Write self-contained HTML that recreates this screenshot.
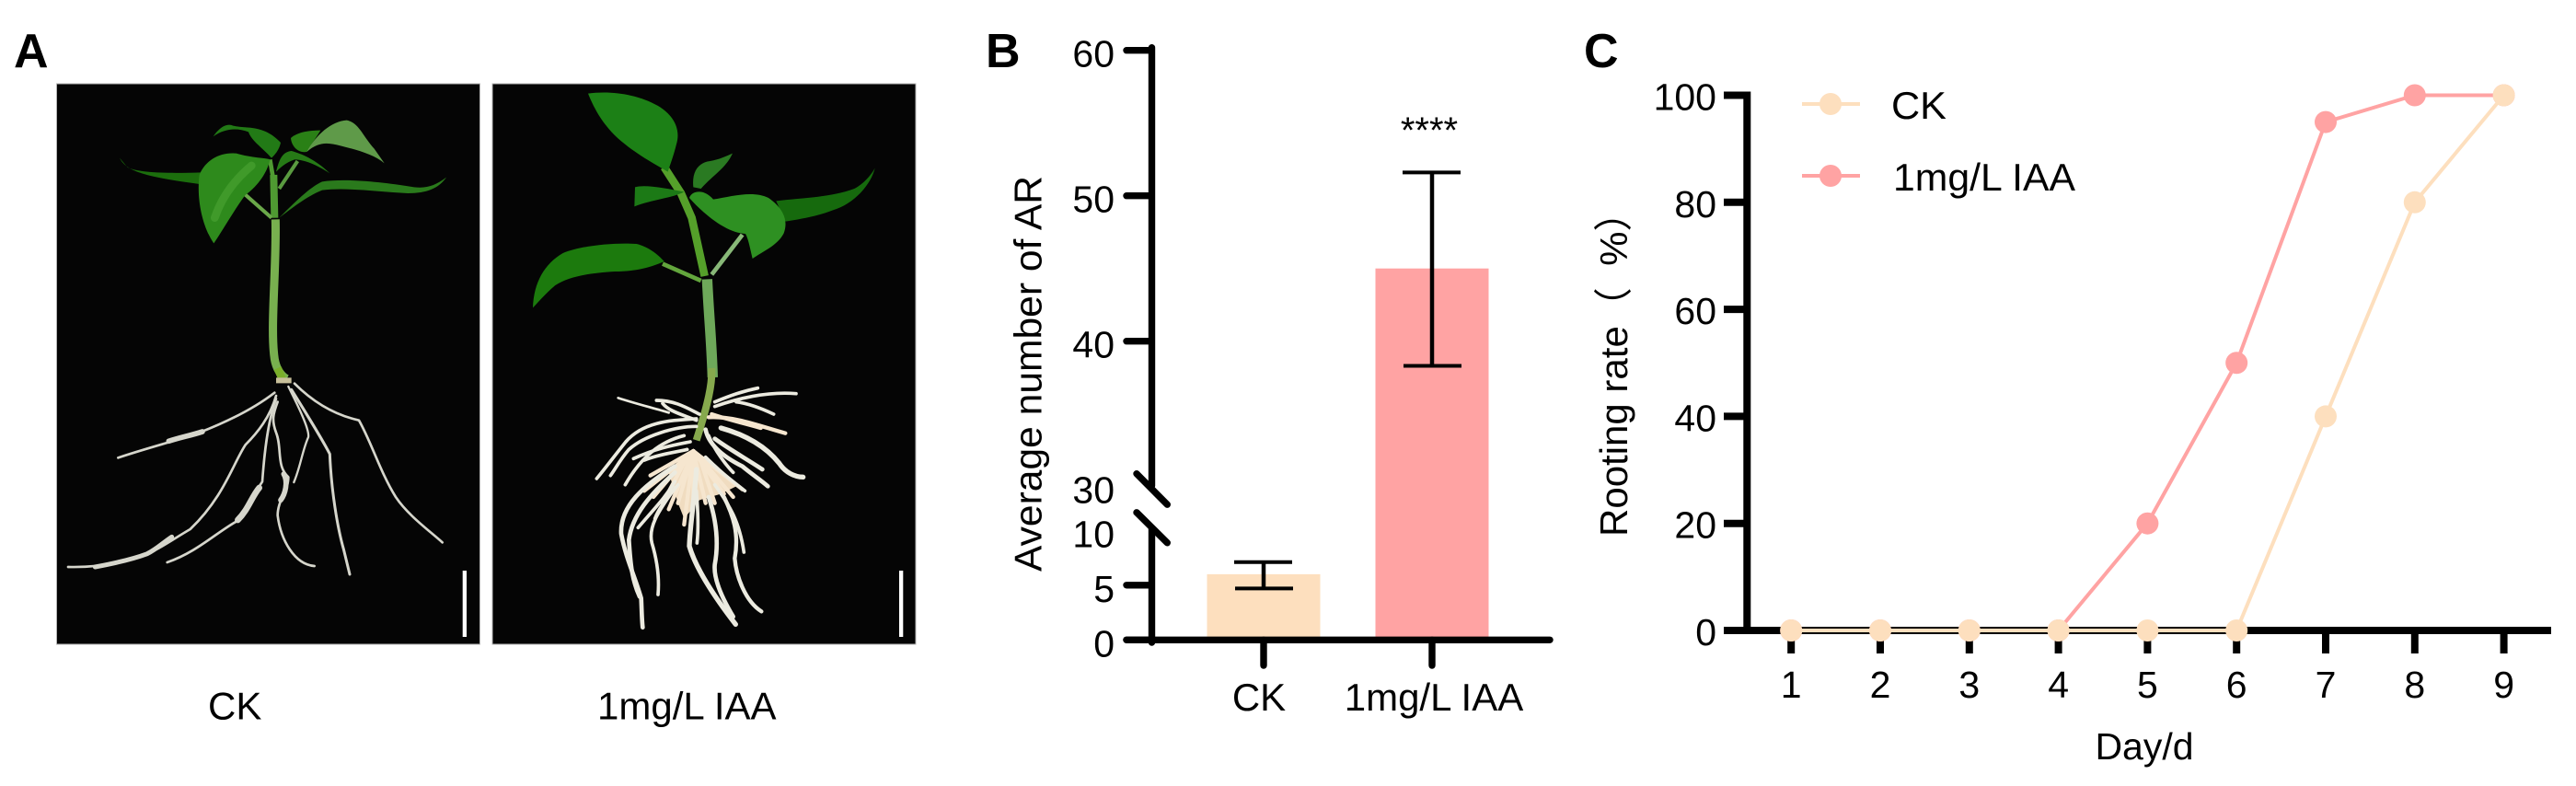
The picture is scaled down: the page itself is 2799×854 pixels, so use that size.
<!DOCTYPE html>
<html lang="en">
<head>
<meta charset="utf-8">
<title>Adventitious root figure</title>
<style>
html,body{margin:0;padding:0;background:#fff;width:2799px;height:854px;overflow:hidden}
svg{display:block}
text{font-family:"Liberation Sans","Noto Sans CJK SC",sans-serif;fill:#000;white-space:pre}
.root{fill:none;stroke:#d6d6cc;stroke-linecap:round;stroke-linejoin:round}
.hair{fill:none;stroke:#ecebe0;stroke-width:11;stroke-linecap:round}
.fan{fill:none;stroke:#f6e6cf;stroke-width:13;stroke-linecap:round}
.vein{fill:none;stroke-linecap:round}
</style>
</head>
<body>
<svg id="figure" xmlns="http://www.w3.org/2000/svg" width="2799" height="854" viewBox="0 0 2799 854">
<defs>
<filter id="soft" x="-5%" y="-5%" width="110%" height="110%"><feGaussianBlur stdDeviation="1"/></filter>
</defs>
<rect width="2799" height="854" fill="#fff"/>

<text x="15" y="73" font-size="52" font-weight="700">A</text>

<g>
<rect x="61.5" y="91" width="460" height="609" fill="#050505" stroke="#b5b5b5" stroke-width="1"/>
<g filter="url(#soft)" transform="translate(60,90) scale(0.33333)">
<path d="M718,445 C722,600 700,800 715,900 C720,930 735,955 755,965" fill="none" stroke="#78b050" stroke-width="27"/>
<path d="M712,300 L715,440" fill="none" stroke="#4f9a30" stroke-width="24"/>
<path d="M620,365 L705,440" fill="none" stroke="#6aa84a" stroke-width="12"/>
<path d="M730,345 L790,255" fill="none" stroke="#5a9a40" stroke-width="12"/>
<path d="M700,250 L712,320" fill="none" stroke="#4f9a30" stroke-width="14"/>
<path d="M210,245 C230,285 280,305 470,330 L475,292 C380,295 270,295 235,275 Z" fill="#1b6e10"/>
<path d="M517,523 C480,470 460,380 470,300 C490,250 540,225 590,230 C640,245 690,245 700,250 C690,300 650,345 620,365 C580,420 540,490 517,523Z" fill="#2f8a1e"/>
<path class="vein" stroke="#3f9a2c" stroke-width="26" d="M520,440 C540,380 580,320 640,270"/>
<path d="M515,175 C535,145 560,130 580,140 C620,150 680,135 735,195 C730,220 715,235 705,245 C680,215 640,190 630,160 C590,145 550,150 515,175Z" fill="#227a14"/>
<path d="M768,180 C790,160 830,155 865,155 L820,225 C790,230 770,205 768,180Z" fill="#2b8018"/>
<path d="M820,225 C850,170 900,125 950,122 C990,130 1000,170 1040,215 L1073,262 C1040,235 990,220 930,205 C890,195 860,190 820,225Z" fill="#5f9a4a"/>
<path d="M720,290 C730,250 740,225 770,222 C800,230 850,250 895,295 C850,265 810,250 780,250 C750,260 730,280 720,290Z" fill="#257a18"/>
<path d="M730,440 C780,390 830,340 870,322 C950,310 1080,325 1170,340 C1210,345 1240,335 1275,308 C1250,345 1210,360 1150,360 C1050,355 950,340 870,350 C820,370 770,410 730,440Z" fill="#2a7a1a"/>
</g>
<g filter="url(#soft)" transform="translate(60,400) scale(0.33333)">
<path d="M725,0 L742,40" fill="none" stroke="#7aae2c" stroke-width="26"/>
<path d="M720,40 L770,40" fill="none" stroke="#c8c09a" stroke-width="18"/>
<path class="root" stroke-width="8" d="M715,80 C650,130 560,175 470,210 C400,235 300,260 205,292"/>
<path class="root" stroke-width="17" d="M370,238 C410,225 440,220 480,207"/>
<path class="root" stroke-width="8" d="M720,90 C700,160 660,210 620,250 C580,310 550,420 440,525 C380,560 340,590 280,615 C200,640 120,650 42,648"/>
<path class="root" stroke-width="15" d="M130,648 C200,635 260,620 300,605 C330,590 350,570 380,550"/>
<path class="root" stroke-width="8" d="M720,100 C690,180 680,300 675,370 C640,420 630,470 590,500 C520,540 460,600 365,633"/>
<path class="root" stroke-width="20" d="M665,390 C640,420 630,460 595,495"/>
<path class="root" stroke-width="8" d="M725,110 C710,150 705,170 720,210 C740,260 720,320 760,355 C760,400 725,430 725,480 C735,560 780,640 845,645"/>
<path class="root" stroke-width="17" d="M745,345 C760,370 750,410 735,430"/>
<path class="root" stroke-width="7" d="M760,60 C790,120 830,200 825,225 C805,270 800,320 778,372"/>
<path class="root" stroke-width="9" d="M770,70 C820,150 880,250 895,280 C900,400 920,520 940,590 L960,672"/>
<path class="root" stroke-width="8" d="M780,50 C830,100 900,150 990,170 C1030,240 1060,340 1110,420 C1150,480 1220,530 1262,568"/>
</g>
<rect x="502.7" y="620" width="4.3" height="72" fill="#fff"/>
</g>

<g>
<rect x="535" y="91" width="460" height="609" fill="#050505" stroke="#b5b5b5" stroke-width="1"/>
<g filter="url(#soft)" transform="translate(535,90) scale(0.33333)">
<path d="M700,640 C705,750 715,850 718,960" fill="none" stroke="#6ea85a" stroke-width="34"/>
<path d="M560,275 L615,360 L650,440 L692,630" fill="none" stroke="#55a02a" stroke-width="26"/>
<path d="M555,590 L680,645" fill="none" stroke="#64a63c" stroke-width="14"/>
<path d="M715,625 L815,495" fill="none" stroke="#88b878" stroke-width="14"/>
<path d="M312,35 C380,25 470,35 540,75 C590,105 615,150 600,200 C590,240 580,265 572,290 C540,270 480,240 420,190 C360,140 330,80 312,35Z" fill="#1f8012"/>
<path d="M655,340 C650,290 670,260 710,255 C740,250 760,240 783,230 C760,280 720,300 680,345Z" fill="#2a7a20"/>
<path d="M463,403 L465,340 C500,330 570,345 625,355 C590,375 520,380 463,403Z" fill="#1f7a14"/>
<path d="M925,385 C1000,375 1100,375 1180,345 C1210,330 1235,300 1247,278 C1235,330 1180,395 1110,415 C1060,435 1000,445 955,452 Z" fill="#146a10"/>
<path d="M642,375 C650,350 690,345 720,380 C780,370 850,350 900,375 C950,410 965,450 950,490 C930,530 880,550 848,573 C840,540 835,510 825,492 C770,490 700,440 642,375Z" fill="#2f9020"/>
<path d="M132,733 C135,650 170,590 230,555 C290,530 400,520 470,525 C510,535 540,560 560,582 C520,600 470,615 400,615 C320,620 250,630 205,660 C170,690 150,715 132,733Z" fill="#1a7a10"/>
</g>
<g filter="url(#soft)" transform="translate(600,400) scale(0.33333)">
<path d="M520,0 C522,50 510,110 470,235" fill="none" stroke="#86a94e" stroke-width="24"/>
<path fill="#f0dcc0" d="M450,270 L380,340 L410,440 L430,490 L480,430 L550,410 L600,385 L530,330 L480,285Z"/>
<path class="fan" d="M460,270 L430,510"/>
<path class="fan" d="M460,270 L380,460"/>
<path class="fan" d="M460,270 L500,440"/>
<path class="fan" d="M460,270 L620,395"/>
<path class="fan" d="M460,270 L560,410"/>
<path class="fan" d="M460,270 L320,350"/>
<path class="fan" d="M460,270 L460,440"/>
<path class="fan" d="M460,270 L410,440"/>
<path class="fan" d="M440,290 L300,400"/>
<path class="fan" d="M440,290 L330,420"/>
<path class="fan" d="M440,290 L360,440"/>
<path class="fan" d="M480,290 L590,420"/>
<path class="fan" d="M480,290 L530,440"/>
<path class="hair" d="M470,165 C400,170 300,170 240,240 C200,290 170,330 145,360"/>
<path class="hair" d="M470,190 C400,190 300,220 250,265 C220,300 205,330 190,350"/>
<path class="hair" d="M430,220 C350,240 290,290 238,380"/>
<path class="hair" style="stroke-width:8" d="M380,145 C330,130 270,115 215,97"/>
<path class="hair" d="M480,150 C440,130 400,105 340,105"/>
<path class="hair" d="M470,170 C420,150 380,140 360,115"/>
<path class="hair" d="M530,110 C580,90 620,75 670,65"/>
<path class="hair" d="M530,125 C600,100 700,75 795,83"/>
<path class="hair" d="M600,110 C640,115 680,130 722,150"/>
<path class="fan" d="M510,160 C590,155 680,190 760,212"/>
<path class="fan" d="M520,150 C580,170 610,175 680,195"/>
<path class="hair" style="stroke-width:16" d="M550,195 C640,220 700,260 740,310 C760,340 790,355 818,355"/>
<path class="hair" style="stroke-width:14" d="M500,200 C510,250 560,290 620,320 C650,345 680,365 703,385"/>
<path class="hair" style="stroke-width:14" d="M530,230 C570,260 640,300 685,330"/>
<path class="hair" d="M510,220 C530,270 570,320 590,340"/>
<path class="hair" d="M500,290 C550,340 590,370 628,400"/>
<path class="hair" d="M450,240 C400,250 340,260 265,295"/>
<path class="hair" d="M440,265 C400,275 350,280 300,300"/>
<path class="hair" style="stroke-width:14" d="M400,320 C300,380 220,450 225,540 C240,620 270,680 290,750 C292,790 292,820 295,845"/>
<path class="hair" style="stroke-width:14" d="M400,340 C320,410 260,480 250,560 C255,640 260,690 285,745"/>
<path class="hair" d="M400,390 C360,450 310,510 325,570 C340,620 350,680 345,738"/>
<path class="hair" d="M410,380 C380,420 350,450 335,490"/>
<path class="hair" style="stroke-width:16" d="M470,330 C465,420 450,500 447,580 C470,660 540,760 598,835"/>
<path class="hair" d="M470,400 C475,460 478,520 472,570"/>
<path class="hair" style="stroke-width:14" d="M510,420 C530,480 545,560 530,640 C525,690 560,760 590,810"/>
<path class="hair" d="M530,380 C580,450 610,500 625,600"/>
<path class="hair" style="stroke-width:13" d="M560,420 C590,480 610,540 595,620 C600,680 630,760 682,793"/>
<path class="hair" d="M400,370 C370,420 340,450 280,520"/>
</g>
<rect x="977" y="620" width="4.3" height="72" fill="#fff"/>
</g>

<text x="226" y="781.5" font-size="42">CK</text>
<text x="649" y="781.5" font-size="42">1mg/L IAA</text>

<text x="1071" y="73" font-size="52" font-weight="700">B</text>
<g id="bar-chart"></g>
<text transform="translate(1131.5,621) rotate(-90)" textLength="430" lengthAdjust="spacingAndGlyphs" font-size="42">Average number of AR</text>

<text x="1721" y="73" font-size="52" font-weight="700">C</text>
<g id="line-chart"></g>
<text transform="translate(1768,583) rotate(-90)" font-size="42">Rooting rate（  %）</text>
<text x="2330" y="825" text-anchor="middle" font-size="41">Day/d</text>
</svg>

<script>
var barCategories = ['CK', '1mg/L IAA'];
var barValues = [6, 45];
var barErrLow = [4.7, 38.3];
var barErrHigh = [7.1, 51.6];
var barTicks = [0, 5, 10, 30, 40, 50, 60];
var barSignificance = ['', '****'];

var lineDays = [1, 2, 3, 4, 5, 6, 7, 8, 9];
var lineCK = [0, 0, 0, 0, 0, 0, 40, 80, 100];
var lineIAA = [0, 0, 0, 0, 20, 50, 95, 100, 100];
var lineTicks = [0, 20, 40, 60, 80, 100];
var lineLegend = ['CK', '1mg/L IAA'];

var NS = 'http://www.w3.org/2000/svg';
function mk(parent, tag, attrs, txt) {
  var el = document.createElementNS(NS, tag);
  for (var k in attrs) { el.setAttribute(k, attrs[k]); }
  if (txt !== undefined) { el.textContent = txt; }
  parent.appendChild(el);
  return el;
}

/* ---------- Panel B: bar chart with broken axis ---------- */
var gB = document.getElementById('bar-chart');
var breakLow = 10, breakHigh = 30;
function yB(v) {
  if (v <= breakLow) { return 695.3 - v * 11.9; }
  return 370.7 + (40 - v) * 15.8;
}
function xB(i) { return 1373 + i * 183; }
var barW = 123;
var barColors = ['#fddfbe', '#ffa3a3'];
var axisB = 7.4;
var k, e;

for (var i = 0; i < barValues.length; i++) {
  e = mk(gB, 'rect', {x: xB(i) - barW / 2, y: yB(barValues[i]), width: barW, height: 695.3 - yB(barValues[i]), fill: barColors[i]});
  
  

  e = mk(gB, 'line', {x1: xB(i), x2: xB(i), y1: yB(barErrLow[i]), y2: yB(barErrHigh[i]), stroke: '#000', 'stroke-width': 4.5});
  
  

  e = mk(gB, 'line', {x1: xB(i) - 32, x2: xB(i) + 31, y1: yB(barErrHigh[i]), y2: yB(barErrHigh[i]), stroke: '#000', 'stroke-width': 4});
  
  

  e = mk(gB, 'line', {x1: xB(i) - 31, x2: xB(i) + 32, y1: yB(barErrLow[i]), y2: yB(barErrLow[i]), stroke: '#000', 'stroke-width': 4});
  
  

  e = mk(gB, 'line', {x1: xB(i), x2: xB(i), y1: 695.3, y2: 723, stroke: '#000', 'stroke-width': axisB, 'stroke-linecap': 'round'});
  
  

  e = mk(gB, 'text', {x: xB(i) - (i === 0 ? 5 : -2), y: 772, 'text-anchor': 'middle', 'font-size': 42}, barCategories[i]);
  
  

  if (barSignificance[i]) {
    e = mk(gB, 'text', {x: xB(i) - 3, y: 155, 'text-anchor': 'middle', 'font-size': 40}, barSignificance[i]);
    
    
  }
}

e = mk(gB, 'line', {x1: 1251.5, x2: 1251.5, y1: yB(60) - 3, y2: yB(breakHigh) - 1, stroke: '#000', 'stroke-width': axisB, 'stroke-linecap': 'round'});



e = mk(gB, 'line', {x1: 1251.5, x2: 1251.5, y1: yB(breakLow) - 1, y2: 698, stroke: '#000', 'stroke-width': axisB, 'stroke-linecap': 'round'});



e = mk(gB, 'line', {x1: 1224, x2: 1684, y1: 695.3, y2: 695.3, stroke: '#000', 'stroke-width': axisB, 'stroke-linecap': 'round'});



e = mk(gB, 'line', {x1: 1235, x2: 1268.3, y1: yB(breakHigh) - 14, y2: yB(breakHigh) + 19.5, stroke: '#000', 'stroke-width': axisB, 'stroke-linecap': 'round'});



e = mk(gB, 'line', {x1: 1235, x2: 1268.3, y1: yB(breakLow) - 19.5, y2: yB(breakLow) + 13.5, stroke: '#000', 'stroke-width': axisB, 'stroke-linecap': 'round'});



for (k = 0; k < barTicks.length; k++) {
  var tv = barTicks[k];
  if (tv !== breakLow && tv !== breakHigh) {
    e = mk(gB, 'line', {x1: 1224, x2: 1251, y1: yB(tv), y2: yB(tv), stroke: '#000', 'stroke-width': axisB, 'stroke-linecap': 'round'});
    
    
  }
  e = mk(gB, 'text', {x: 1211, y: yB(tv) + 18, 'text-anchor': 'end', 'font-size': 41}, String(tv));
  
  
}

/* ---------- Panel C: line chart ---------- */
var gC = document.getElementById('line-chart');
function xC(d) { return 1946.2 + (d - 1) * 96.8; }
function yC(v) { return 685 - v * 5.815; }
var colCK = '#fddfbe', colIAA = '#ffa3a3';
var axisC = 8;

e = mk(gC, 'line', {x1: 1898.3, x2: 1898.3, y1: yC(100) - 4, y2: 689, stroke: '#000', 'stroke-width': axisC});



e = mk(gC, 'line', {x1: 1873, x2: 2772, y1: 685, y2: 685, stroke: '#000', 'stroke-width': axisC});



for (k = 0; k < lineTicks.length; k++) {
  e = mk(gC, 'line', {x1: 1873, x2: 1898, y1: yC(lineTicks[k]), y2: yC(lineTicks[k]), stroke: '#000', 'stroke-width': axisC});
  
  

  e = mk(gC, 'text', {x: 1865, y: yC(lineTicks[k]) + 16, 'text-anchor': 'end', 'font-size': 41}, String(lineTicks[k]));
  
  
}

for (k = 0; k < lineDays.length; k++) {
  e = mk(gC, 'line', {x1: xC(lineDays[k]), x2: xC(lineDays[k]), y1: 685, y2: 710, stroke: '#000', 'stroke-width': axisC});
  
  

  e = mk(gC, 'text', {x: xC(lineDays[k]), y: 758, 'text-anchor': 'middle', 'font-size': 41}, String(lineDays[k]));
  
  
}

function pointsOf(vals) {
  var p = [];
  for (var n = 0; n < vals.length; n++) { p.push(xC(lineDays[n]) + ',' + yC(vals[n])); }
  return p.join(' ');
}

e = mk(gC, 'polyline', {points: pointsOf(lineIAA), fill: 'none', stroke: colIAA, 'stroke-width': 4});


for (k = 0; k < lineIAA.length; k++) {
  e = mk(gC, 'circle', {cx: xC(lineDays[k]), cy: yC(lineIAA[k]), r: 12, fill: colIAA});
  
  
}

e = mk(gC, 'polyline', {points: pointsOf(lineCK), fill: 'none', stroke: colCK, 'stroke-width': 4});


for (k = 0; k < lineCK.length; k++) {
  e = mk(gC, 'circle', {cx: xC(lineDays[k]), cy: yC(lineCK[k]), r: 12, fill: colCK});
  
  
}

var legendColors = [colCK, colIAA];
var legendRowGap = 78;
for (k = 0; k < lineLegend.length; k++) {
  var ly = 113 + k * legendRowGap;
  e = mk(gC, 'line', {x1: 1958, x2: 2021, y1: ly, y2: ly, stroke: legendColors[k], 'stroke-width': 4});
  
  

  e = mk(gC, 'circle', {cx: 1989, cy: ly, r: 12, fill: legendColors[k]});
  
  

  e = mk(gC, 'text', {x: k === 1 ? 2057 : 2055, y: ly + 16, 'font-size': 42, textLength: k === 1 ? 198 : 60, lengthAdjust: 'spacingAndGlyphs'}, lineLegend[k]);
  
  
}
</script>
</body>
</html>
